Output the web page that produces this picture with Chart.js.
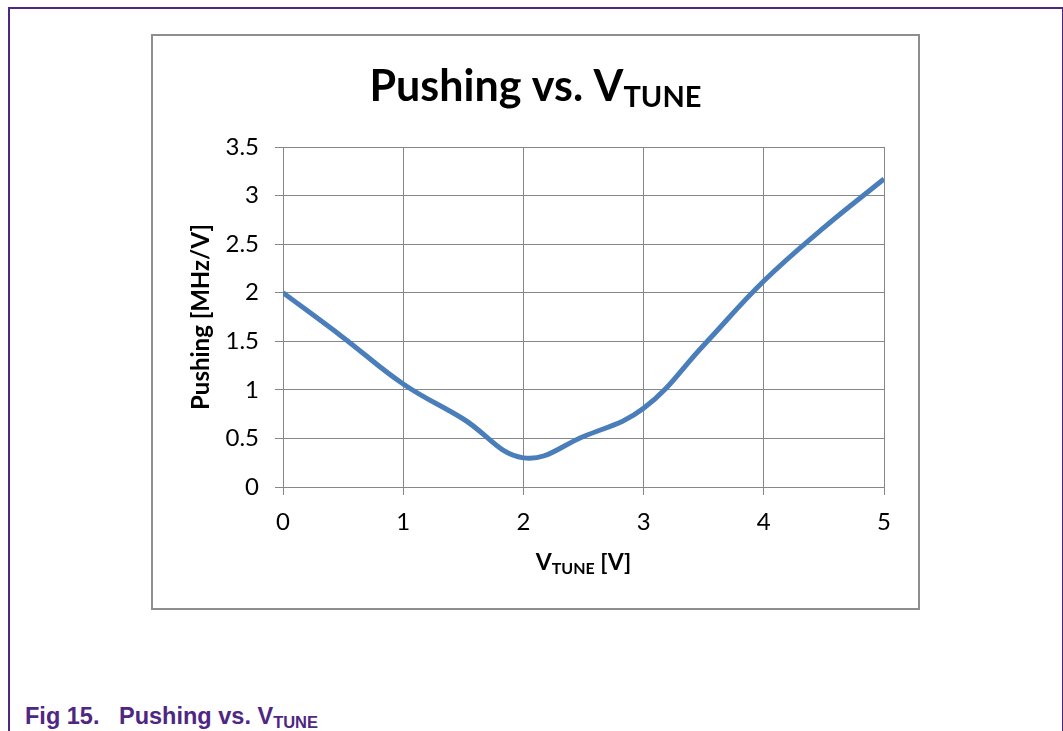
<!DOCTYPE html>
<html>
<head>
<meta charset="utf-8">
<script src="https://cdn.jsdelivr.net/npm/chart.js@4"></script>
<style>
  html, body { margin: 0; padding: 0; background: #fff; }
  body { width: 1063px; height: 731px; position: relative; overflow: hidden; }
  .frame {
    position: absolute; left: 8px; top: 7px; width: 1052px; height: 760px;
    border: 2px solid #4f2683; border-bottom: none;
  }
  .chartBox {
    position: absolute; left: 151px; top: 34px; width: 765px; height: 572px;
    border: 2px solid #8e8e8e;
  }
  .chartBox canvas { display: block; }
  .caption {
    position: absolute; left: 25px; top: 703px;
    font-family: "Liberation Sans", Arial, sans-serif; font-weight: bold;
    font-size: 23.5px; color: #4f2683; white-space: pre;
  }
  .caption sub { font-size: 16.5px; vertical-align: -4px; }
</style>
</head>
<body>
<div class="frame"></div>
<div class="chartBox"><canvas id="pushChart" width="765" height="572"></canvas></div>
<div class="caption">Fig 15.   Pushing vs. V<sub>TUNE</sub></div>

<script>
// Pushing vs. VTUNE
const vTune   = [0, 0.5, 1, 1.5, 2, 2.5, 3, 3.5, 4, 4.5, 5];
const pushing = [2.0, 1.54, 1.06, 0.70, 0.30, 0.52, 0.81, 1.46, 2.12, 2.67, 3.17];

const titleMain = 'Pushing vs. V';
const titleSub  = 'TUNE';
const xTitleMain = 'V';
const xTitleSub  = 'TUNE';
const xTitleTail = ' [V]';
const yTitle = 'Pushing [MHz/V]';

const fontFam = 'Lato, "Open Sans", sans-serif';
const gridColor = '#878787';

// draws text with a subscript part, centred on cx
function drawSubText(ctx, cx, baseline, main, sub, tail, size, subSize, subDrop) {
    ctx.save();
    ctx.fillStyle = '#000';
    ctx.textBaseline = 'alphabetic';
    ctx.textAlign = 'left';
    const mainFont = 'bold ' + size + 'px ' + fontFam;
    const subFont  = 'bold ' + subSize + 'px ' + fontFam;
    ctx.font = mainFont;
    const w1 = ctx.measureText(main).width;
    const w3 = tail ? ctx.measureText(tail).width : 0;
    ctx.font = subFont;
    const w2 = ctx.measureText(sub).width;
    let x = cx - (w1 + w2 + w3) / 2;
    ctx.font = mainFont;
    ctx.fillText(main, x, baseline);
    x += w1;
    ctx.font = subFont;
    ctx.fillText(sub, x, baseline + subDrop);
    x += w2;
    if (tail) {
        ctx.font = mainFont;
        ctx.fillText(tail, x, baseline);
    }
    ctx.restore();
}

const subTitlePlugin = {
    id: 'subTitles',
    afterDraw: function(chart) {
        const ctx = chart.ctx;
        const area = chart.chartArea;
        drawSubText(ctx, chart.width / 2, 65, titleMain, titleSub, '', 43, 29, 6);
        drawSubText(ctx, (area.left + area.right) / 2, 534, xTitleMain, xTitleSub, xTitleTail, 23, 16, 4);
    }
};

new Chart(document.getElementById('pushChart'), {
    type: 'line',
    data: {
        datasets: [{
            label: 'Pushing',
            data: vTune.map(function(v, i) { return { x: v, y: pushing[i] }; }),
            borderColor: '#4a7ebb',
            borderWidth: 5,
            pointRadius: 0,
            tension: 0.4,
            fill: false
        }]
    },
    options: {
        responsive: false,
        animation: false,
        layout: { padding: { left: 30, top: 111, right: 34, bottom: 0 } },
        plugins: {
            legend: { display: false },
            tooltip: { enabled: false },
            title: { display: false }
        },
        scales: {
            x: {
                type: 'linear',
                min: 0,
                max: 5,
                grid: { color: gridColor, lineWidth: 1, tickLength: 8 },
                border: { color: gridColor },
                ticks: {
                    stepSize: 1,
                    padding: 13,
                    color: '#000',
                    font: { family: fontFam, size: 24 },
                    maxRotation: 0
                },
                afterFit: function(scale) { scale.height = 121; }
            },
            y: {
                min: 0,
                max: 3.5,
                grid: { color: gridColor, lineWidth: 1, tickLength: 8 },
                border: { color: gridColor },
                title: {
                    display: true,
                    text: yTitle,
                    color: '#000',
                    font: { family: fontFam, size: 24, weight: 'bold' },
                    padding: { top: 4, bottom: 0 }
                },
                ticks: {
                    stepSize: 0.5,
                    padding: 16,
                    color: '#000',
                    font: { family: fontFam, size: 24 },
                    callback: function(value) { return String(value); }
                },
                afterFit: function(scale) { scale.width = 130 - 30; }
            }
        }
    },
    plugins: [subTitlePlugin]
});
</script>
</body>
</html>
